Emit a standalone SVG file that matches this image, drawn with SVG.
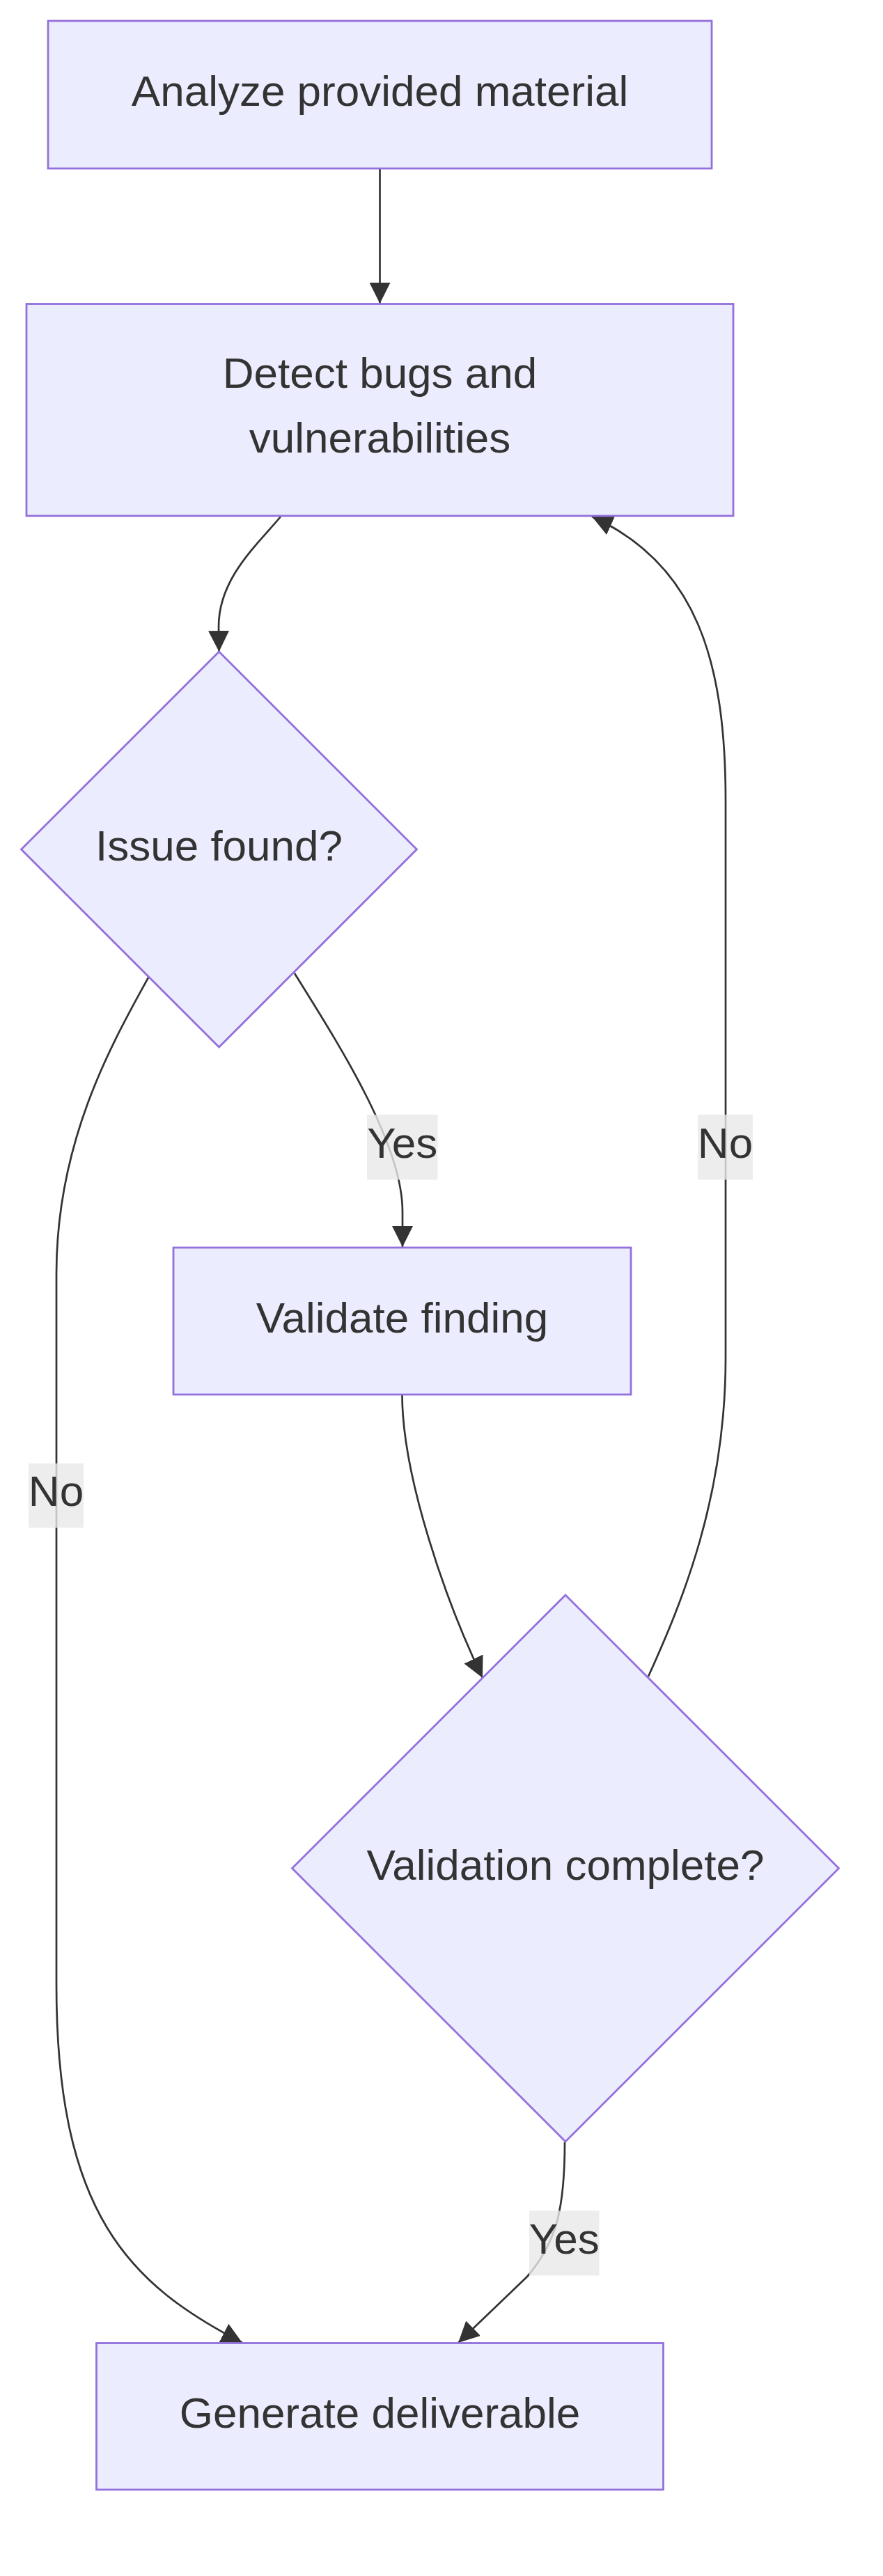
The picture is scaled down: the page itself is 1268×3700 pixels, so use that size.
<svg xmlns="http://www.w3.org/2000/svg" width="1268" height="3700" viewBox="0 0 1268 3700">
<defs>
<style>
.node rect, .node polygon { fill: #ECECFF; stroke: #9370DB; stroke-width: 2.8; }
.label { font-family: "Liberation Sans", Arial, sans-serif; font-size: 62px; fill: #333333; text-anchor: middle; }
.edge { fill: none; stroke: #333333; stroke-width: 2.7; marker-end: url(#arrow); }
.elbg { fill: #e8e8e8; fill-opacity: 0.8; }
</style>
<marker id="arrow" viewBox="0 0 10 10" refX="10" refY="5" markerUnits="userSpaceOnUse" markerWidth="30" markerHeight="30" orient="auto">
<path d="M0,0 L10,5 L0,10 z" fill="#333333"/>
</marker>
</defs>
<rect x="0" y="0" width="1268" height="3700" fill="#ffffff"/>
<g id="connectors">
<path class="edge" d="M545.5,242 L545.5,436"/>
<path class="edge" d="M403,742 C370,782 314,830 314,900 L314.5,936"/>
<path class="edge" d="M423,1398 C480,1490 578,1640 578,1740 L578,1791"/>
<path class="edge" d="M213,1404 C160,1500 81,1640 81,1830 L81,2850 C81,3180 186,3281 348,3365"/>
<path class="edge" d="M577.5,2003 C577.5,2120 640,2300 693,2410"/>
<path class="edge" d="M931,2408 C980,2300 1042,2150 1042,1950 L1042,1150 C1042,950 1000,810 850,742"/>
<path class="edge" d="M811,3077 C811,3170 800,3220 757,3270 L658,3365"/>
<g id="label-yes-1"><rect class="elbg" x="527" y="1601" width="101.5" height="93.5"/><text class="label" x="577.75" y="1663">Yes</text></g>
<g id="label-no-right"><rect class="elbg" x="1002" y="1601" width="79" height="93.5"/><text class="label" x="1041.5" y="1663">No</text></g>
<g id="label-no-left"><rect class="elbg" x="41" y="2102" width="79" height="92.5"/><text class="label" x="80.5" y="2163">No</text></g>
<g id="label-yes-2"><rect class="elbg" x="760" y="3175.5" width="100.5" height="93"/><text class="label" x="810.25" y="3237">Yes</text></g>
</g>
<g id="node-analyze" class="node">
<rect x="69" y="30" width="953" height="212"/>
<text class="label" x="545.5" y="152">Analyze provided material</text>
</g>
<g id="node-detect" class="node">
<rect x="38" y="436.5" width="1015" height="304.5"/>
<text class="label" x="545.5" y="557">Detect bugs and</text>
<text class="label" x="545.5" y="650">vulnerabilities</text>
</g>
<g id="node-issue" class="node">
<polygon points="314.5,936 598.5,1220 314.5,1504 30.5,1220"/>
<text class="label" x="314.5" y="1236">Issue found?</text>
</g>
<g id="node-validate" class="node">
<rect x="249" y="1792" width="657" height="211"/>
<text class="label" x="577.5" y="1914">Validate finding</text>
</g>
<g id="node-complete" class="node">
<polygon points="812,2291 1204.5,2683.5 812,3076 419.5,2683.5"/>
<text class="label" x="812" y="2700">Validation complete?</text>
</g>
<g id="node-deliverable" class="node">
<rect x="138.5" y="3365.5" width="814" height="210.5"/>
<text class="label" x="545.5" y="3487">Generate deliverable</text>
</g>
</svg>
